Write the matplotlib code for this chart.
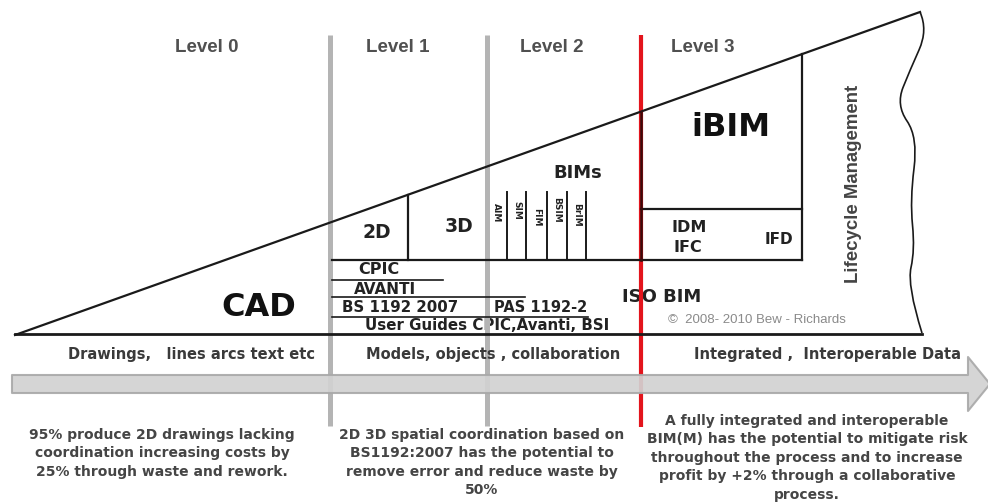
import numpy as np
import matplotlib
matplotlib.use("Agg")
import matplotlib.pyplot as plt
from matplotlib.path import Path
from matplotlib.patches import PathPatch, Polygon

# ---- content ---------------------------------------------------------------
level_names = ["Level 0", "Level 1", "Level 2", "Level 3"]
level_label_x = [207, 398, 552, 703]
divider_x = [330, 487]          # grey level dividers
red_x = 641                     # level 2 / level 3 divider

bim_types = ["AIM", "SIM", "FIM", "BSIM", "BrIM"]
bim_label_x = [496, 517, 537, 557, 577]
bim_label_y = [213, 210, 217, 210, 215]
bim_line_x = [507, 526, 547, 567, 586]

bottom_labels = ["Drawings,   lines arcs text etc",
                 "Models, objects , collaboration",
                 "Integrated ,  Interoperable Data"]
bottom_label_x = [191, 493, 827]

notes = ["95% produce 2D drawings lacking\ncoordination increasing costs by\n"
         "25% through waste and rework.",
         "2D 3D spatial coordination based on\nBS1192:2007 has the potential to\n"
         "remove error and reduce waste by\n50%",
         "A fully integrated and interoperable\nBIM(M) has the potential to mitigate risk\n"
         "throughout the process and to increase\nprofit by +2% through a collaborative\n"
         "process."]
note_x = [162, 482, 807]
note_y = [428, 428, 414]

# wedge outline (pixel space)
apex = (15, 335)
top_right = (920, 12)
base_y = 334
wave_pts = [(920, 12), (928, 30), (910, 70), (896, 105), (918, 137),
            (910, 200), (915, 250), (907, 285), (922, 333)]

W, H = 988, 504
fig = plt.figure(figsize=(W / 100, H / 100), dpi=100)
ax = fig.add_axes([0, 0, 1, 1])
ax.set_xlim(0, W)
ax.set_ylim(H, 0)
ax.axis("off")

K = "#1a1a1a"


def top_y(x):
    # y of the sloping top edge of the wedge
    return apex[1] + (top_right[1] - apex[1]) * (x - apex[0]) / (top_right[0] - apex[0])


# grey and red dividers
for x in divider_x:
    ax.plot([x, x], [35, 426], color="#b4b4b4", lw=3.6, zorder=4, solid_capstyle="butt")
ax.plot([red_x, red_x], [35, 427], color="#e3141c", lw=3.0, zorder=4, solid_capstyle="butt")

# wedge
ax.plot([apex[0], top_right[0]], [apex[1], top_right[1]], color=K, lw=1.6, zorder=5)
ax.plot([apex[0], wave_pts[-1][0]], [base_y, base_y], color=K, lw=2.0, zorder=5)

# wavy right edge: quadratic beziers through midpoints
verts = [wave_pts[0]]
codes = [Path.MOVETO]
for i in range(1, len(wave_pts) - 1):
    mid = ((wave_pts[i][0] + wave_pts[i + 1][0]) / 2, (wave_pts[i][1] + wave_pts[i + 1][1]) / 2)
    if i == len(wave_pts) - 2:
        mid = wave_pts[-1]
    verts += [wave_pts[i], mid]
    codes += [Path.CURVE3, Path.CURVE3]
ax.add_patch(PathPatch(Path(verts, codes), fill=False, ec=K, lw=1.2, zorder=5))

# level 1 structure
ax.plot([332, red_x], [260, 260], color=K, lw=1.6, zorder=5)
ax.plot([408, 408], [top_y(408), 260], color=K, lw=1.6, zorder=5)
ax.plot([332, 443], [280, 280], color=K, lw=1.2, zorder=5)
ax.plot([332, 525], [297, 297], color=K, lw=1.2, zorder=5)
ax.plot([332, 588], [317, 317], color=K, lw=1.2, zorder=5)
for x in bim_line_x:
    ax.plot([x, x], [192, 260], color=K, lw=1.4, zorder=5)

# level 3 structure
box_r = 802
ax.plot([red_x, red_x], [top_y(red_x), 260], color="#3a0a0a", lw=1.8, zorder=6)
ax.plot([box_r, box_r], [top_y(box_r), 260], color=K, lw=1.6, zorder=5)
ax.plot([red_x, box_r], [209, 209], color=K, lw=1.6, zorder=5)
ax.plot([red_x, box_r], [260, 260], color=K, lw=1.6, zorder=5)

# arrow
arrow = Polygon([(12, 375), (968, 375), (968, 357), (990, 384), (968, 411),
                 (968, 393), (12, 393)], closed=True, fc="#d2d2d2", ec="#a9a9a9",
                lw=1.5, alpha=0.92, zorder=7, joinstyle="round")
ax.add_patch(arrow)

# ---- text -----------------------------------------------------------------
for name, x in zip(level_names, level_label_x):
    ax.text(x, 48, name, ha="center", va="center", family="Liberation Sans",
            weight="bold", fontsize=13.5, color="#505050", zorder=8)

ax.text(259, 307, "CAD", ha="center", va="center", family="DejaVu Sans",
        weight="bold", fontsize=23, color="#111111", zorder=8)
ax.text(731, 128, "iBIM", ha="center", va="center", family="DejaVu Sans",
        weight="bold", fontsize=23, color="#111111", zorder=8)

inner = dict(family="DejaVu Sans", weight="bold", color="#222222", zorder=3)
ax.text(377, 233, "2D", ha="center", va="center", fontsize=13.5, **inner)
ax.text(459, 226, "3D", ha="center", va="center", fontsize=13.5, **inner)
ax.text(578, 173, "BIMs", ha="center", va="center", fontsize=13, **inner)
ax.text(379, 270, "CPIC", ha="center", va="center", fontsize=11.5, **inner)
ax.text(385, 289, "AVANTI", ha="center", va="center", fontsize=11, **inner)
ax.text(400, 308, "BS 1192 2007", ha="center", va="center", fontsize=10.8, **inner)
ax.text(541, 308, "PAS 1192-2", ha="center", va="center", fontsize=10.5, **inner)
ax.text(487, 326, "User Guides CPIC,Avanti, BSI", ha="center", va="center",
        fontsize=10.8, **inner)
ax.text(689, 227, "IDM", ha="center", va="center", fontsize=11.5, **inner)
ax.text(688, 247, "IFC", ha="center", va="center", fontsize=11.5, **inner)
ax.text(779, 240, "IFD", ha="center", va="center", fontsize=11, **inner)
ax.text(662, 297, "ISO BIM", ha="center", va="center", fontsize=13, **inner)
for t, x, y in zip(bim_types, bim_label_x, bim_label_y):
    ax.text(x, y, t, ha="center", va="center", rotation=-90, fontsize=6.5, **inner)

ax.text(757, 320, "\u00a9  2008- 2010 Bew - Richards", ha="center", va="center",
        family="Liberation Sans", fontsize=9.5, color="#8a8a8a", zorder=8)
ax.text(853, 184, "Lifecycle Management", ha="center", va="center", rotation=90,
        family="Liberation Sans", weight="bold", fontsize=13.4, color="#444444", zorder=8)

for t, x in zip(bottom_labels, bottom_label_x):
    ax.text(x, 355, t, ha="center", va="center", family="DejaVu Sans",
            weight="bold", fontsize=10.5, color="#3a3a3a", zorder=8)

for t, x, y in zip(notes, note_x, note_y):
    ax.text(x, y, t, ha="center", va="top", family="DejaVu Sans", weight="bold",
            fontsize=10, color="#454545", linespacing=1.4, zorder=8)

fig.savefig("out.png", dpi=100, facecolor="white")
